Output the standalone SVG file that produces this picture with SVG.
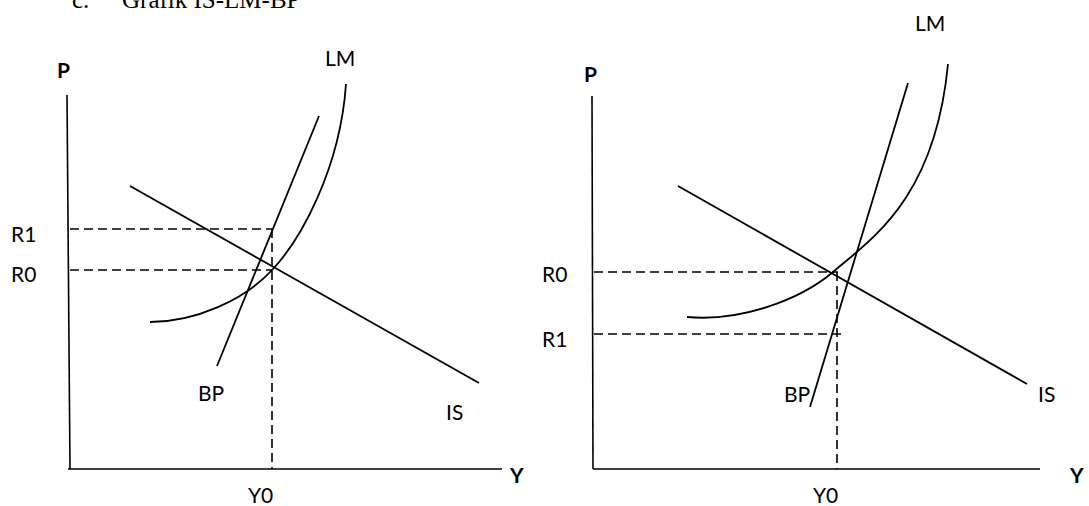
<svg xmlns="http://www.w3.org/2000/svg" width="1089" height="506" viewBox="0 0 1089 506">
<style>
.ax{stroke:#000;stroke-width:1.6;fill:none}
.ln{stroke:#000;stroke-width:1.8;fill:none}
.ds{stroke:#000;stroke-width:1.6;fill:none;stroke-dasharray:9 5}
.lb{font-family:Lato,"Open Sans","Liberation Sans",sans-serif;font-size:21px;fill:#000}
.bd{font-family:Lato,"Open Sans","Liberation Sans",sans-serif;font-size:21px;font-weight:bold;fill:#000}
.tt{font-family:"Liberation Serif","Times New Roman",serif;font-size:25px;fill:#000}
</style>
<rect width="1089" height="506" fill="#fff"/>
<text class="tt" x="72" y="8">c.</text>
<text class="tt" x="122" y="8">Grafik IS-LM-BP</text>
<g id="connectors">
<g id="left-axes">
<line class="ax" x1="67" y1="95" x2="70" y2="469"/>
<line class="ax" x1="68" y1="469" x2="502" y2="469"/>
</g>
<g id="left-guides">
<line class="ds" x1="70" y1="229" x2="272" y2="229"/>
<line class="ds" x1="70" y1="270" x2="272" y2="270"/>
<line class="ds" x1="272" y1="229" x2="272" y2="469"/>
</g>
<g id="right-axes">
<line class="ax" x1="592" y1="96" x2="593" y2="469"/>
<line class="ax" x1="593" y1="469" x2="1040" y2="469"/>
</g>
<g id="right-guides">
<line class="ds" x1="594" y1="272" x2="838" y2="272"/>
<line class="ds" x1="594" y1="334" x2="841" y2="334"/>
<line class="ds" x1="837" y1="272" x2="837" y2="469"/>
</g>
</g>
<g id="left-IS"><line class="ln" x1="130" y1="186" x2="479" y2="383"/><text class="lb" x="446" y="420">IS</text></g>
<g id="left-BP"><line class="ln" x1="319" y1="116" x2="217" y2="366"/><text class="lb" x="198" y="401">BP</text></g>
<g id="left-LM"><path class="ln" d="M150,322 C195,322 245,300 273,269 C300,240 340,170 346,84"/><text class="lb" x="325" y="66">LM</text></g>
<g id="left-labels">
<text class="bd" x="57" y="78">P</text>
<text class="bd" x="510" y="483">Y</text>
<text class="lb" x="11" y="242">R1</text>
<text class="lb" x="11" y="282">R0</text>
<text class="lb" x="248" y="503">Y0</text>
</g>
<g id="right-IS"><line class="ln" x1="678" y1="186" x2="1027" y2="384"/><text class="lb" x="1038" y="402">IS</text></g>
<g id="right-BP"><line class="ln" x1="908" y1="83" x2="810" y2="407"/><text class="lb" x="784" y="402">BP</text></g>
<g id="right-LM"><path class="ln" d="M687,317 C740,322 800,300 833,272 C870,240 935,200 948,64"/><text class="lb" x="915" y="31">LM</text></g>
<g id="right-labels">
<text class="bd" x="584" y="82">P</text>
<text class="bd" x="1070" y="483">Y</text>
<text class="lb" x="542" y="282">R0</text>
<text class="lb" x="542" y="347">R1</text>
<text class="lb" x="813" y="503">Y0</text>
</g>
</svg>
